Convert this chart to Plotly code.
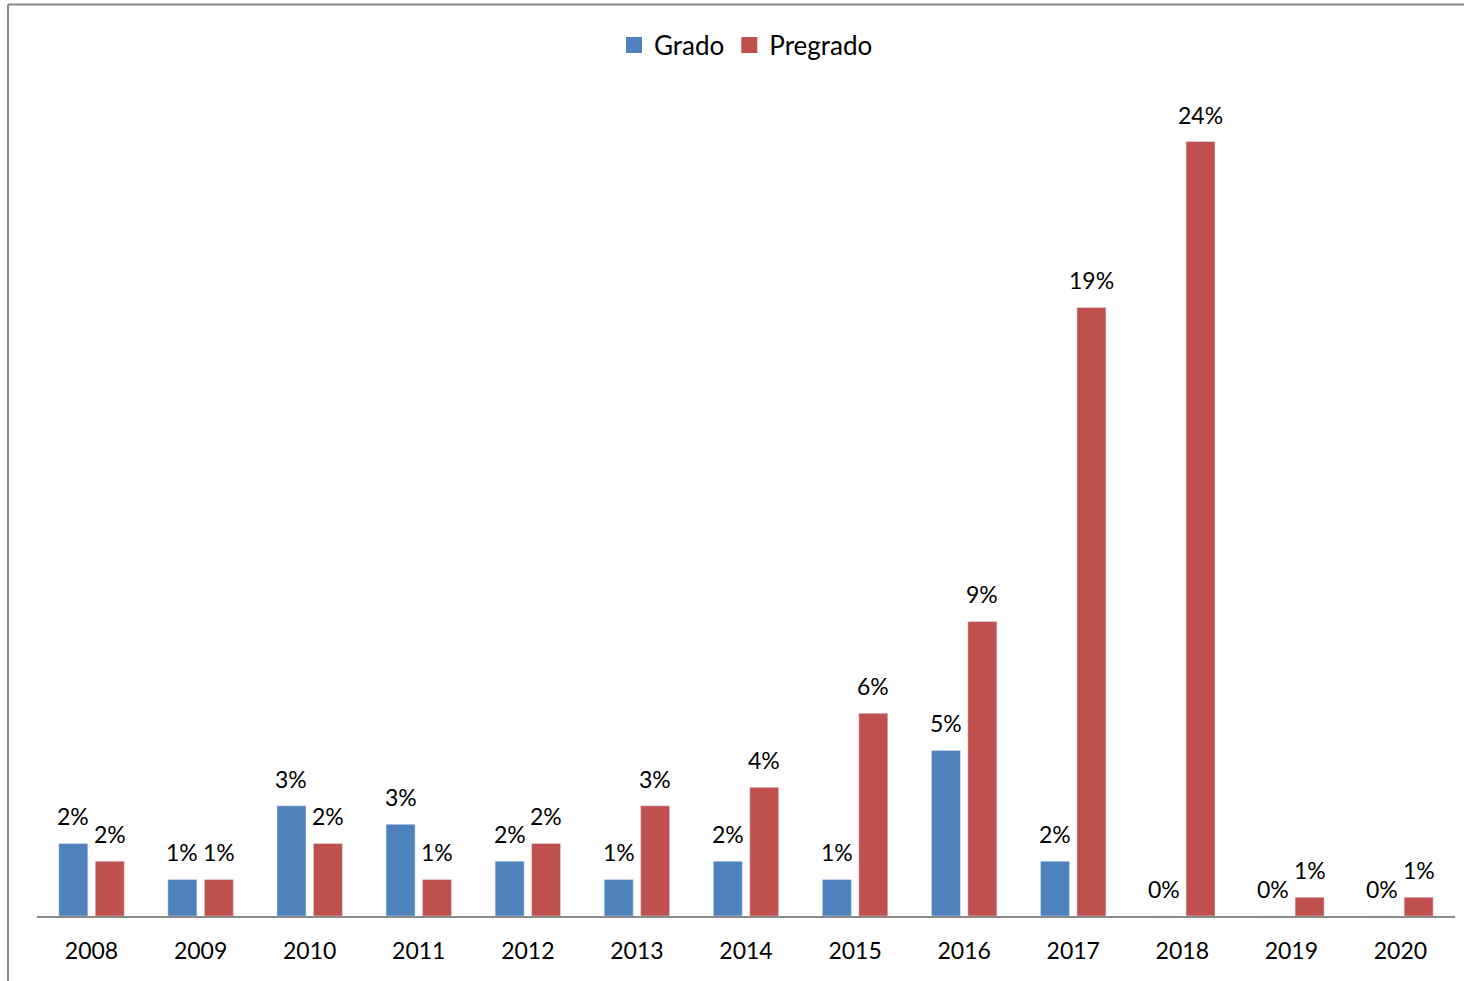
import plotly.graph_objects as go

# Share of students per year (percent)
years = ["2008", "2009", "2010", "2011", "2012", "2013", "2014",
         "2015", "2016", "2017", "2018", "2019", "2020"]
grado = [2.24, 1.13, 3.40, 2.83, 1.69, 1.13, 1.69, 1.13, 5.11, 1.69, 0.0, 0.0, 0.0]
pregrado = [1.69, 1.13, 2.24, 1.13, 2.24, 3.40, 3.97, 6.26, 9.09, 18.78, 23.9, 0.58, 0.58]

BLUE = "#4F81BD"
RED = "#C0504D"
FONT = "Lato"

W, H = 1464, 981
ML, MR, MT, MB = 37, 9, 80, 65

BAR_W = 0.266
OFF_G = -0.300
OFF_P = 0.034

fig = go.Figure()
fig.add_trace(go.Bar(name="Grado", x=years, y=grado, marker_color=BLUE,
                     width=BAR_W, offset=OFF_G, showlegend=False))
fig.add_trace(go.Bar(name="Pregrado", x=years, y=pregrado, marker_color=RED,
                     width=BAR_W, offset=OFF_P, showlegend=False))

# legend entries with larger square swatches
for name, col in (("Grado", BLUE), ("Pregrado", RED)):
    fig.add_trace(go.Scatter(x=[None], y=[None], mode="markers", name=name,
                             marker=dict(symbol="square", size=16, color=col)))

# value labels above each bar (category index on the x axis)
pw = W - ML - MR
cat_px = pw / len(years)
shift_g = (OFF_G + BAR_W / 2) * cat_px
shift_p = (OFF_P + BAR_W / 2) * cat_px
annotations = []
for i, (g, p) in enumerate(zip(grado, pregrado)):
    for val, xs in ((g, shift_g), (p, shift_p)):
        annotations.append(dict(
            x=i, y=val, xref="x", yref="y", text=f"{val:.0f}%",
            showarrow=False, xanchor="center", yanchor="bottom",
            xshift=xs, yshift=11,
            font=dict(family=FONT, size=23, color="black")))

ph = H - MT - MB
def py(px):
    return (H - MB - px) / ph
def pxx(px):
    return (px - ML) / pw

# outer chart border
shapes = [
    dict(type="line", xref="paper", yref="paper",
         x0=pxx(8), x1=pxx(8), y0=py(4.5), y1=py(990),
         line=dict(color="#8a8a8a", width=2)),
    dict(type="line", xref="paper", yref="paper",
         x0=pxx(8), x1=pxx(1470), y0=py(4.5), y1=py(4.5),
         line=dict(color="#8a8a8a", width=2)),
]

fig.update_layout(
    width=W, height=H,
    margin=dict(l=ML, r=MR, t=MT, b=MB),
    paper_bgcolor="white", plot_bgcolor="white",
    barmode="group",
    font=dict(family=FONT, color="black"),
    showlegend=True,
    legend=dict(orientation="h", x=0.5, xanchor="center",
                y=py(45), yanchor="middle",
                font=dict(family=FONT, size=26, color="black"),
                itemwidth=30, tracegroupgap=0),
    annotations=annotations,
    shapes=shapes,
    xaxis=dict(type="category", range=[-0.5, len(years) - 0.5],
               showline=True, linecolor="#8a8a8a",
               linewidth=1.5, ticks="", showgrid=False, zeroline=False,
               tickfont=dict(family=FONT, size=23, color="black"),
               ticklabelstandoff=14),
    yaxis=dict(range=[0, 25.8], visible=False, showgrid=False,
               zeroline=False),
)

fig.write_html("out.html")
